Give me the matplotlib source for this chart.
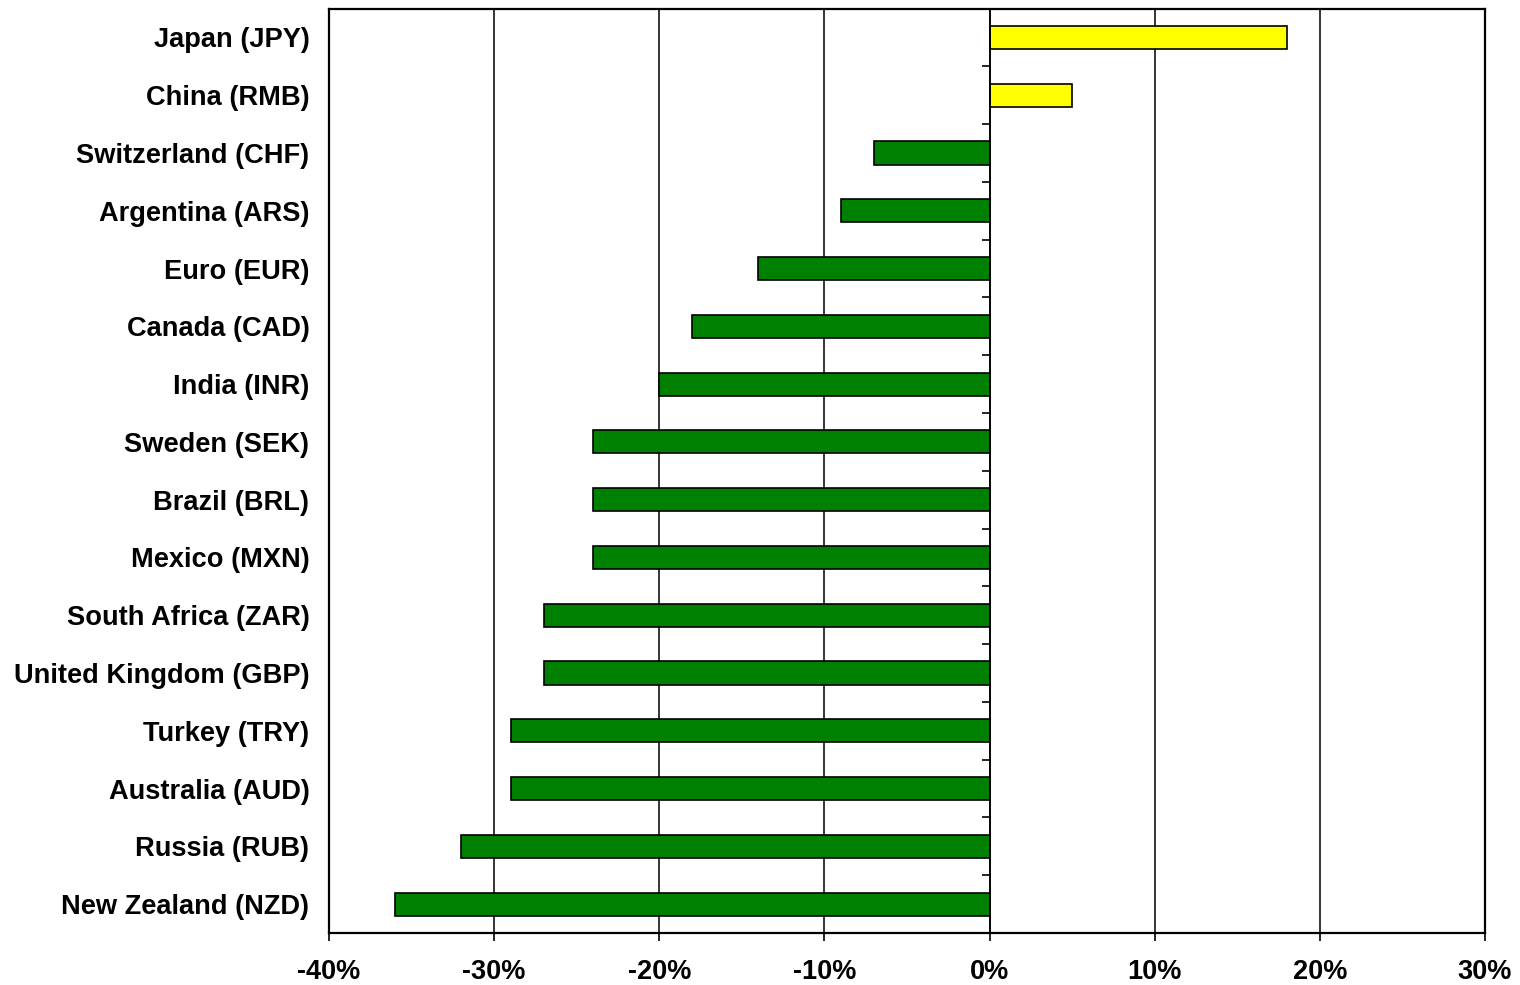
import numpy as np
import matplotlib
matplotlib.use("Agg")
import matplotlib.pyplot as plt
from matplotlib.ticker import FuncFormatter, MultipleLocator

plt.rcParams['font.family'] = ['Liberation Sans', 'DejaVu Sans']

currencies = ["Japan (JPY)", "China (RMB)", "Switzerland (CHF)", "Argentina (ARS)",
              "Euro (EUR)", "Canada (CAD)", "India (INR)", "Sweden (SEK)",
              "Brazil (BRL)", "Mexico (MXN)", "South Africa (ZAR)",
              "United Kingdom (GBP)", "Turkey (TRY)", "Australia (AUD)",
              "Russia (RUB)", "New Zealand (NZD)"]
change = [18, 5, -7, -9, -14, -18, -20, -24, -24, -24, -27, -27, -29, -29, -32, -36]

colors = ["#FFFF00" if v > 0 else "#008000" for v in change]
y = np.arange(len(currencies))

fig = plt.figure(figsize=(15.2, 9.85), dpi=100)
ax = fig.add_axes([0.2164, 0.0528, 0.977 - 0.2164, 0.9913 - 0.0528])

ax.barh(y, change, height=0.4, color=colors, edgecolor="black", linewidth=1.2, zorder=3)

# zero axis with category ticks between bars
ax.axvline(0, color="black", linewidth=1.2, zorder=4)
bounds = y[:-1] + 0.5
ax.plot(np.zeros(len(bounds)), bounds, linestyle="none", marker=0,
        markersize=6, markeredgewidth=1.2, color="black", zorder=4)

ax.set_xlim(-40, 30)
ax.set_ylim(len(currencies) - 0.5, -0.5)
ax.xaxis.set_major_locator(MultipleLocator(10))
ax.xaxis.set_major_formatter(FuncFormatter(lambda v, p: "%d%%" % round(v)))
ax.grid(axis="x", color="black", linewidth=1.1, zorder=1)

ax.set_yticks(y)
ax.set_yticklabels(currencies, fontsize=19.6, fontweight="bold")
ax.tick_params(axis="y", length=0, pad=14)
ax.tick_params(axis="x", direction="out", length=6, width=1.2, pad=13,
               labelsize=19.5)
for lab in ax.get_xticklabels():
    lab.set_fontweight("bold")

for s in ax.spines.values():
    s.set_linewidth(1.6)

fig.savefig("out.png", dpi=100)
